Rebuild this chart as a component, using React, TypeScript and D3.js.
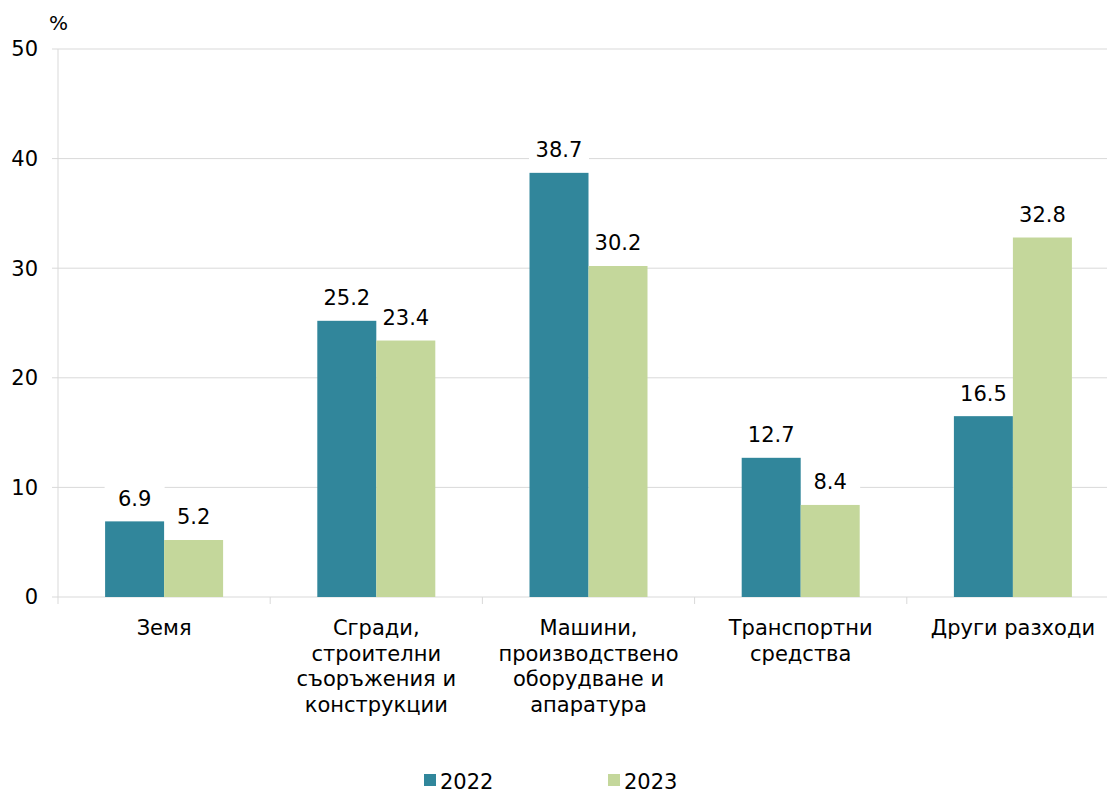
import { useRef, useEffect } from 'react'
import * as d3 from 'd3'

const categories = [
  ['Земя'],
  ['Сгради,', 'строителни', 'съоръжения и', 'конструкции'],
  ['Машини,', 'производствено', 'оборудване и', 'апаратура'],
  ['Транспортни', 'средства'],
  ['Други разходи'],
]
const series = ['2022', '2023']
const values2022 = [6.9, 25.2, 38.7, 12.7, 16.5]
const values2023 = [5.2, 23.4, 30.2, 8.4, 32.8]
const yTicks = [0, 10, 20, 30, 40, 50]

const COLORS = ['#31869b', '#c4d79b']
const FONT = '"DejaVu Sans", Verdana, sans-serif'

export default function App() {
  const svgRef = useRef<SVGSVGElement>(null)

  useEffect(() => {
    if (!svgRef.current) return
    const svg = d3.select(svgRef.current)
    svg.selectAll('*').remove()

    const width = 1107
    const left = 58
    const right = 1119
    const top = 49
    const bottom = 597

    const keys = categories.map((_, i) => String(i))
    const x0 = d3.scaleBand().domain(keys).range([left, right]).paddingInner(0).paddingOuter(0)
    const barW = 59
    const y = d3.scaleLinear().domain([0, 50]).range([bottom, top])
    const data = [values2022, values2023]
    const labelX = (si: number, i: number) => x0(keys[i])! + x0.bandwidth() / 2 - barW / 2 + si * barW

    // grid
    svg.append('g').selectAll('line').data(yTicks).join('line')
      .attr('x1', left - 6).attr('x2', width)
      .attr('y1', d => y(d)).attr('y2', d => y(d))
      .attr('stroke', '#d9d9d9').attr('stroke-width', 1)

    // y axis line
    svg.append('line').attr('x1', left).attr('x2', left)
      .attr('y1', top).attr('y2', bottom + 7)
      .attr('stroke', '#d9d9d9')

    // category tick stubs
    svg.append('g').selectAll('line').data(keys.slice(1)).join('line')
      .attr('x1', d => x0(d)!).attr('x2', d => x0(d)!)
      .attr('y1', bottom).attr('y2', bottom + 7)
      .attr('stroke', '#d9d9d9')

    // y tick labels
    svg.append('g').selectAll('text').data(yTicks).join('text')
      .attr('x', 38).attr('y', d => y(d))
      .attr('dy', '0.35em')
      .attr('text-anchor', 'end')
      .style('font-family', FONT).style('font-size', '21px').style('fill', '#000')
      .text(d => d)

    svg.append('text').attr('x', 49).attr('y', 30)
      .style('font-family', FONT).style('font-size', '20px').style('fill', '#000')
      .text('%')

    // label backgrounds (under the bars so they only hide gridlines)
    data.forEach((vals, si) => {
      svg.append('g').selectAll('rect').data(vals).join('rect')
        .attr('x', (_, i) => labelX(si, i) - 30)
        .attr('y', d => y(d) - 36)
        .attr('width', 60).attr('height', 26)
        .attr('fill', '#fff')
    })

    // bars
    data.forEach((vals, si) => {
      svg.append('g').selectAll('rect').data(vals).join('rect')
        .attr('x', (_, i) => x0(keys[i])! + x0.bandwidth() / 2 - barW + si * barW)
        .attr('y', d => y(d))
        .attr('width', barW)
        .attr('height', d => y(0) - y(d))
        .attr('fill', COLORS[si])
    })

    // value labels
    data.forEach((vals, si) => {
      svg.append('g').selectAll('text').data(vals).join('text')
        .attr('x', (_, i) => labelX(si, i))
        .attr('y', d => y(d) - 23).attr('dy', '0.35em')
        .attr('text-anchor', 'middle')
        .style('font-family', FONT).style('font-size', '21px').style('fill', '#000')
        .text(d => d.toFixed(1))
    })

    // category labels
    categories.forEach((lines, i) => {
      const cx = x0(keys[i])! + x0.bandwidth() / 2
      const t = svg.append('text')
        .attr('text-anchor', 'middle')
        .style('font-family', FONT).style('font-size', '21px').style('fill', '#000')
      lines.forEach((ln, li) => {
        t.append('tspan').attr('x', cx).attr('y', 635 + li * 25.5).text(ln)
      })
    })

    // legend
    const legendX = [424, 608]
    series.forEach((s, i) => {
      svg.append('rect').attr('x', legendX[i]).attr('y', 774)
        .attr('width', 12).attr('height', 12).attr('fill', COLORS[i])
      svg.append('text').attr('x', legendX[i] + 16).attr('y', 789)
        .style('font-family', FONT).style('font-size', '21px').style('fill', '#000')
        .text(s)
    })
  }, [])

  return (
    <svg ref={svgRef} width={1107} height={789}
      style={{ position: 'absolute', left: 0, top: 0, background: '#fff' }} />
  )
}
